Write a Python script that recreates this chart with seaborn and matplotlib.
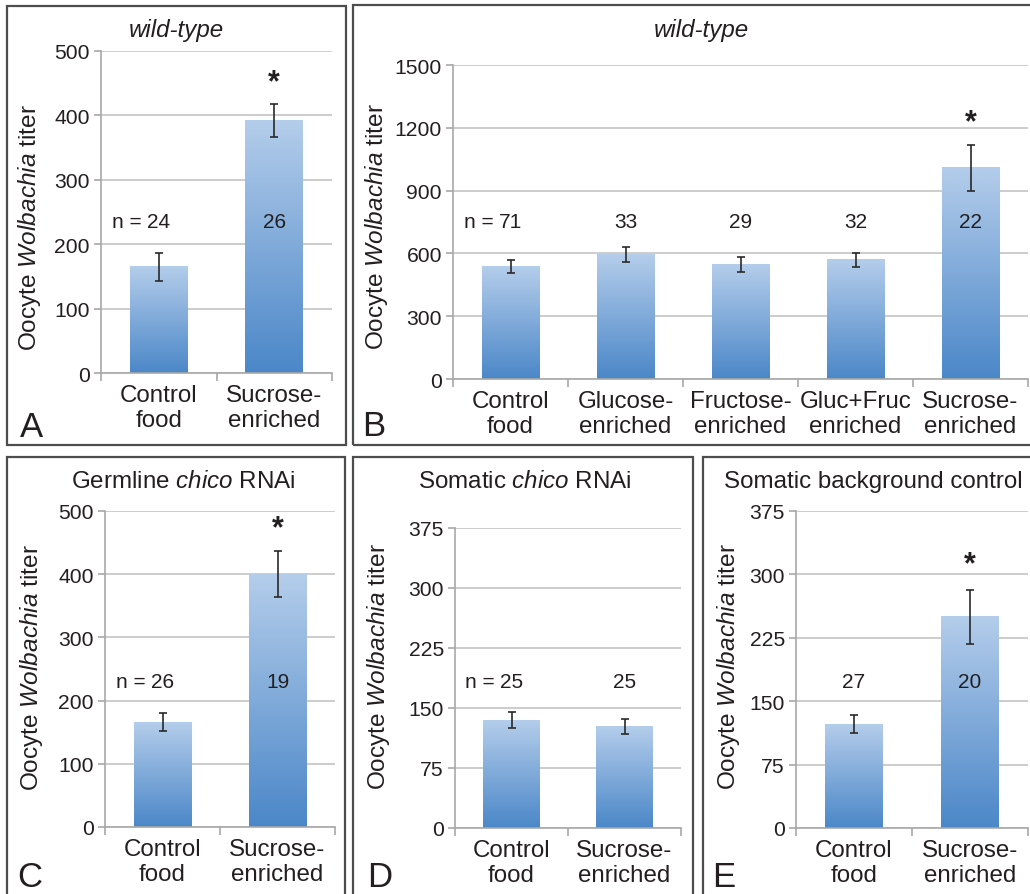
# %%
import numpy as np
import pandas as pd
import matplotlib
matplotlib.use('Agg')
from matplotlib import pyplot as plt
from matplotlib.colors import LinearSegmentedColormap
from matplotlib.patches import Rectangle
from matplotlib.ticker import FixedLocator
import seaborn as sns

# %% Data
twoCats = ["Control\nfood", "Sucrose-\nenriched"]
fiveCats = ["Control\nfood", "Glucose-\nenriched", "Fructose-\nenriched",
            "Gluc+Fruc\nenriched", "Sucrose-\nenriched"]

aMeans = [165, 392]
aErr = [22, 25]
aN = ["24", "26"]
aStar = [False, True]

bMeans = [537, 594, 546, 570, 1009]
bErr = [30, 35, 37, 33, 110]
bN = ["71", "33", "29", "32", "22"]
bStar = [False, False, False, False, True]

cMeans = [166, 400]
cErr = [14, 36]
cN = ["26", "19"]
cStar = [False, True]

dMeans = [135, 127]
dErr = [10, 9]
dN = ["25", "25"]
dStar = [False, False]

eMeans = [123, 250]
eErr = [11, 32]
eN = ["27", "20"]
eStar = [False, True]

W, H = 1030, 895
TXT = "#231f20"
GRID = "#c4c4c4"
SPINE = "#a8a8a8"
barCmap = LinearSegmentedColormap.from_list("bar", ["#4b87c8", "#b4cdeb"])


# %% Funcs
def fx(px):
    return px / W


def fy(py):
    return 1 - py / H


def axRect(l, r, t, b):
    return [fx(l), fy(b), (r - l) / W, (b - t) / H]


def drawPanel(fig, p):
    ax = fig.add_axes(axRect(*p["box"]))
    n = len(p["cats"])
    df = pd.DataFrame({"cat": p["cats"], "val": p["means"]})
    sns.barplot(data=df, x="cat", y="val", width=0.5, color="#7ba5d8",
                errorbar=None, ax=ax)
    # gradient fill per bar
    grad = np.linspace(0, 1, 256).reshape(-1, 1)
    for bar in list(ax.patches):
        x0, w, h = bar.get_x(), bar.get_width(), bar.get_height()
        ax.imshow(grad, cmap=barCmap, extent=[x0, x0 + w, 0, h],
                  origin="lower", aspect="auto", zorder=2)
        bar.set_facecolor("none")
        bar.set_edgecolor("none")
    ax.errorbar(range(n), p["means"], yerr=p["errs"], fmt="none",
                ecolor="#2a2a2a", elinewidth=1.2, capsize=3, capthick=1.2,
                zorder=5)
    ax.set_xlim(-0.5, n - 0.5)
    ax.set_ylim(0, p["yMax"])
    ax.set_yticks(np.arange(0, p["yMax"] + 1, p["yStep"]))
    ax.set_xticks(range(n))
    ax.set_xticklabels(p["cats"], linespacing=1.15)
    ax.xaxis.set_minor_locator(FixedLocator(np.arange(-0.5, n, 1.0)))
    ax.set_xlabel("")
    ax.set_ylabel("")
    ax.yaxis.grid(True, color=GRID, lw=1.2)
    ax.xaxis.grid(False)
    ax.set_axisbelow(True)
    for s in ["top", "right"]:
        ax.spines[s].set_visible(False)
    for s in ["left", "bottom"]:
        ax.spines[s].set_color(SPINE)
        ax.spines[s].set_linewidth(1.2)
    ax.tick_params(axis="y", length=5, width=1.2, color=SPINE, pad=3,
                   labelsize=15.2, labelcolor=TXT, left=True)
    ax.tick_params(axis="x", which="major", length=0, pad=8,
                   labelsize=17.4, labelcolor=TXT)
    ax.tick_params(axis="x", which="minor", length=6, width=1.2,
                   color=SPINE, bottom=True)
    ax.set_facecolor("white")

    # n labels and significance stars
    for i in range(n):
        ax.text(i, p["nY"], p["nLabels"][i], ha="center", va="center",
                fontsize=15, color=TXT, zorder=6)
        if p["stars"][i]:
            ax.text(i, p["starY"], "*", ha="center", va="center",
                    fontsize=22, fontweight="bold", color=TXT, zorder=6)
    if p["prefix"]:
        ax.annotate("n =", xy=(0, p["nY"]), xytext=(-12.5, 0),
                    textcoords="offset points", ha="right", va="center",
                    fontsize=15, color=TXT)

    # texts in figure coords
    tx, ty = p["titleXY"]
    fig.text(fx(tx), fy(ty), p["title"], ha="center", va="center",
             fontsize=17.4, color=TXT, style=p.get("titleStyle", "normal"))
    lx, ly = p["ylabXY"]
    fig.text(fx(lx), fy(ly), r"Oocyte $\mathit{Wolbachia}$ titer",
             rotation=90, ha="center", va="center", fontsize=17.6, color=TXT)
    kx, ky = p["letterXY"]
    fig.text(fx(kx), fy(ky), p["letter"], ha="left", va="baseline",
             fontsize=25, color=TXT)
    return ax


# %% Plot
sns.set_style("white")
plt.rcParams["font.family"] = ["Liberation Sans", "DejaVu Sans"]
plt.rcParams["mathtext.fontset"] = "custom"
plt.rcParams["mathtext.rm"] = "Liberation Sans"
plt.rcParams["mathtext.it"] = "Liberation Sans:italic"

fig = plt.figure(figsize=(W / 100, H / 100), dpi=100)
fig.patch.set_facecolor("white")

# panel frames
for l, r, t, b in [(7, 346, 7, 446), (353, 1045, 6, 446), (7, 345, 458, 905),
                   (353, 693, 458, 905), (703, 1045, 458, 905)]:
    fig.patches.append(Rectangle((fx(l), fy(b)), (r - l) / W, (b - t) / H,
                                 transform=fig.transFigure, fill=False,
                                 edgecolor="#4d4d4d", lw=1.6))

panels = [
    dict(box=(101, 332, 52, 374), cats=twoCats, means=aMeans, errs=aErr,
         nLabels=aN, stars=aStar, yMax=500, yStep=100, nY=236, starY=452,
         prefix=True, title="wild-type", titleStyle="italic",
         titleXY=(176, 31), ylabXY=(30, 228), letter="A", letterXY=(20, 437)),
    dict(box=(453, 1028, 66, 380), cats=fiveCats, means=bMeans, errs=bErr,
         nLabels=bN, stars=bStar, yMax=1500, yStep=300, nY=753, starY=1226,
         prefix=True, title="wild-type", titleStyle="italic",
         titleXY=(701, 31), ylabXY=(376, 227), letter="B", letterXY=(362, 436)),
    dict(box=(105, 335, 512, 828), cats=twoCats, means=cMeans, errs=cErr,
         nLabels=cN, stars=cStar, yMax=500, yStep=100, nY=231, starY=472,
         prefix=True, title=r"Germline $\mathit{chico}$ RNAi",
         titleXY=(183, 482), ylabXY=(32, 668), letter="C", letterXY=(17, 887)),
    dict(box=(455, 681, 529, 829), cats=twoCats, means=dMeans, errs=dErr,
         nLabels=dN, stars=dStar, yMax=375, yStep=75, nY=183, starY=0,
         prefix=True, title=r"Somatic $\mathit{chico}$ RNAi",
         titleXY=(525, 482), ylabXY=(378, 667), letter="D", letterXY=(367, 887)),
    dict(box=(796, 1028, 512, 829), cats=twoCats, means=eMeans, errs=eErr,
         nLabels=eN, stars=eStar, yMax=375, yStep=75, nY=173, starY=312,
         prefix=False, title="Somatic background control",
         titleXY=(873, 482), ylabXY=(728, 667), letter="E", letterXY=(712, 887)),
]

for p in panels:
    drawPanel(fig, p)

fig.savefig("out.png", dpi=100, facecolor="white")
plt.close(fig)
